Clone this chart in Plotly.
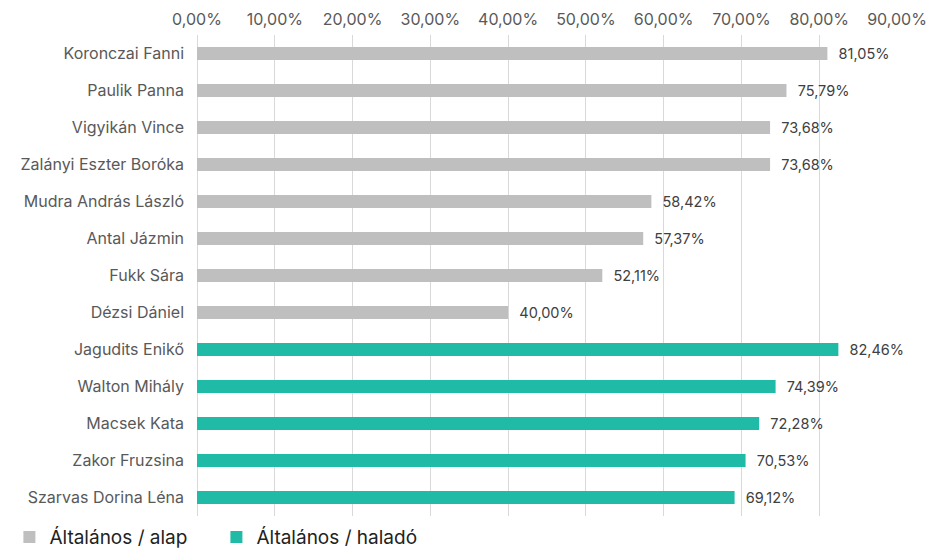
import plotly.graph_objects as go

categories = ["Koronczai Fanni", "Paulik Panna", "Vigyikán Vince", "Zalányi Eszter Boróka",
              "Mudra András László", "Antal Jázmin", "Fukk Sára", "Dézsi Dániel",
              "Jagudits Enikő", "Walton Mihály", "Macsek Kata", "Zakor Fruzsina", "Szarvas Dorina Léna"]

alap_names = categories[:8]
alap_values = [0.8105, 0.7579, 0.7368, 0.7368, 0.5842, 0.5737, 0.5211, 0.4000]
halado_names = categories[8:]
halado_values = [0.8246, 0.7439, 0.7228, 0.7053, 0.6912]

tick_vals = [0, 0.1, 0.2, 0.3, 0.4, 0.5, 0.6, 0.7, 0.8, 0.9]

font_family = "Inter, Open Sans, sans-serif"
text_color = "#595959"

fig = go.Figure()
fig.add_trace(go.Bar(
    y=alap_names, x=alap_values, orientation="h", name="Általános / alap",
    marker=dict(color="#BFBFBF", line=dict(width=0)),
    texttemplate="\u00a0\u00a0%{x:.2%}", textposition="outside", cliponaxis=False,
    constraintext="none",
    textfont=dict(size=14.5, color="#404040", family=font_family),
))
fig.add_trace(go.Bar(
    y=halado_names, x=halado_values, orientation="h", name="Általános / haladó",
    marker=dict(color="#20BBA6", line=dict(width=0)),
    texttemplate="\u00a0\u00a0%{x:.2%}", textposition="outside", cliponaxis=False,
    constraintext="none",
    textfont=dict(size=14.5, color="#404040", family=font_family),
))

fig.update_layout(
    width=940, height=541,
    margin=dict(l=189, r=51, t=27, b=33, autoexpand=False),
    paper_bgcolor="white", plot_bgcolor="white",
    separators=", ",
    barmode="overlay", bargap=0.65,
    font=dict(family=font_family, color=text_color, size=15),
    showlegend=True,
    legend=dict(orientation="h", x=-0.268, y=-0.044, xanchor="left", yanchor="middle",
                font=dict(size=19, color="#222222"), itemwidth=30, tracegroupgap=0,
                entrywidth=162, entrywidthmode="pixels"),
    xaxis=dict(side="top", range=[0, 0.9], tickvals=tick_vals, tickformat=".2%",
               automargin=False, ticklabelstandoff=6,
               showgrid=True, gridcolor="#D9D9D9", gridwidth=1,
               zeroline=True, zerolinecolor="#D9D9D9", zerolinewidth=1,
               showline=False, ticks="", tickfont=dict(size=16, color=text_color)),
    yaxis=dict(type="category", categoryorder="array", categoryarray=categories,
               autorange="reversed", showgrid=False, ticks="", ticklen=0,
               automargin=False, ticklabelstandoff=12,
               tickfont=dict(size=16, color=text_color)),
)

fig.write_html("out.html")
